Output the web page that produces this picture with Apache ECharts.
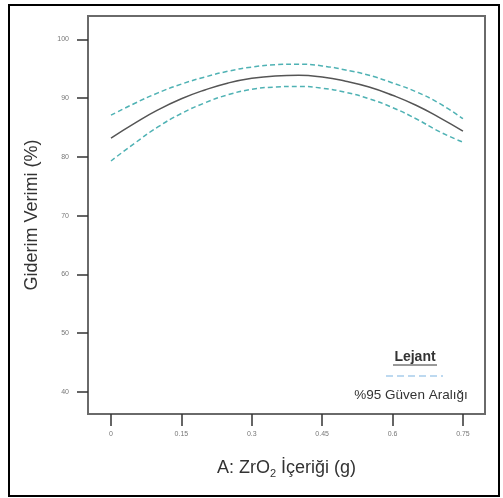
<!DOCTYPE html>
<html><head><meta charset="utf-8">
<script src="https://cdn.jsdelivr.net/npm/echarts@6/dist/echarts.min.js"></script>
<style>html,body{margin:0;padding:0;background:#fff}#c{width:503px;height:498px}</style>
</head><body><div id="c"></div>
<script>
const xValues = [0,0.05,0.1,0.15,0.2,0.25,0.3,0.35,0.4,0.45,0.5,0.55,0.6,0.65,0.7,0.75];
const meanValues = [83.2,85.7,88.0,89.9,91.4,92.6,93.4,93.8,93.9,93.6,92.9,91.9,90.5,88.8,86.7,84.4];
const upperValues = [87.1,89.1,90.9,92.4,93.6,94.6,95.3,95.7,95.8,95.5,94.8,93.9,92.6,91.1,89.1,86.5];
const lowerValues = [79.3,82.3,85.1,87.4,89.2,90.6,91.5,91.9,92.0,91.7,91.0,89.9,88.4,86.5,84.3,82.5];
const xTicks = [0,0.15,0.3,0.45,0.6,0.75];
const yTicks = [40,50,60,70,80,90,100];
const xTitle = 'A: ZrO';
const yTitle = 'Giderim Verimi (%)';
const legendTitle = 'Lejant';
const legendLabel = '%95 Güven Aralığı';

const pairs = v => xValues.map((x,i)=>[x,v[i]]);
const chart = echarts.init(document.getElementById('c'));
const font = 'Liberation Sans, Arial, sans-serif';
chart.setOption({
  animation:false,
  backgroundColor:'#fff',
  grid:{left:88,top:16,right:18,bottom:84,show:true,borderColor:'#6a6a6a',borderWidth:2,backgroundColor:'transparent'},
  xAxis:{type:'value',min:-0.049,max:0.797,
    axisLine:{show:false,onZero:false},
    axisTick:{show:true,customValues:xTicks,length:12,lineStyle:{color:'#333',width:1.5}},
    axisLabel:{customValues:xTicks,color:'#777',fontSize:7,fontFamily:font,margin:17,formatter:v=>String(v)},
    splitLine:{show:false},
    name:'{a|'+xTitle+'}{s|2}{a| İçeriği (g)}',nameLocation:'middle',nameGap:44,
    nameTextStyle:{rich:{a:{fontSize:18,color:'#333',fontFamily:font},s:{fontSize:11,color:'#333',fontFamily:font,verticalAlign:'bottom',padding:[10,0,0,0]}}}
  },
  yAxis:{type:'value',min:36.2,max:104,
    axisLine:{show:false,onZero:false},
    axisTick:{show:true,customValues:yTicks,length:11,lineStyle:{color:'#333',width:1.5}},
    axisLabel:{customValues:yTicks,color:'#777',fontSize:7,fontFamily:font,margin:19},
    splitLine:{show:false},
    name:yTitle,nameLocation:'middle',nameGap:47,
    nameTextStyle:{fontSize:18,color:'#333',fontFamily:font}
  },
  series:[
    {type:'line',data:pairs(upperValues),smooth:true,symbol:'none',lineStyle:{color:'#4fb2b4',width:1.5,type:[5,3]}},
    {type:'line',data:pairs(meanValues),smooth:true,symbol:'none',lineStyle:{color:'#555',width:1.5}},
    {type:'line',data:pairs(lowerValues),smooth:true,symbol:'none',lineStyle:{color:'#4fb2b4',width:1.5,type:[5,3]}}
  ],
  graphic:[
    {type:'rect',shape:{x:9,y:5,width:490,height:491},style:{fill:'none',stroke:'#000',lineWidth:2},z:100},
    {type:'text',x:415,y:357,style:{text:legendTitle,font:'bold 14px '+font,fill:'#333',align:'center',verticalAlign:'middle'}},
    {type:'line',shape:{x1:393,y1:365,x2:437,y2:365},style:{stroke:'#333',lineWidth:1}},
    {type:'line',shape:{x1:386,y1:376,x2:443,y2:376},style:{stroke:'#a8cdec',lineWidth:1.5,lineDash:[7,4]}},
    {type:'text',x:411,y:395,style:{text:legendLabel,font:'13.5px '+font,fill:'#333',align:'center',verticalAlign:'middle'}}
  ]
});
</script></body></html>
